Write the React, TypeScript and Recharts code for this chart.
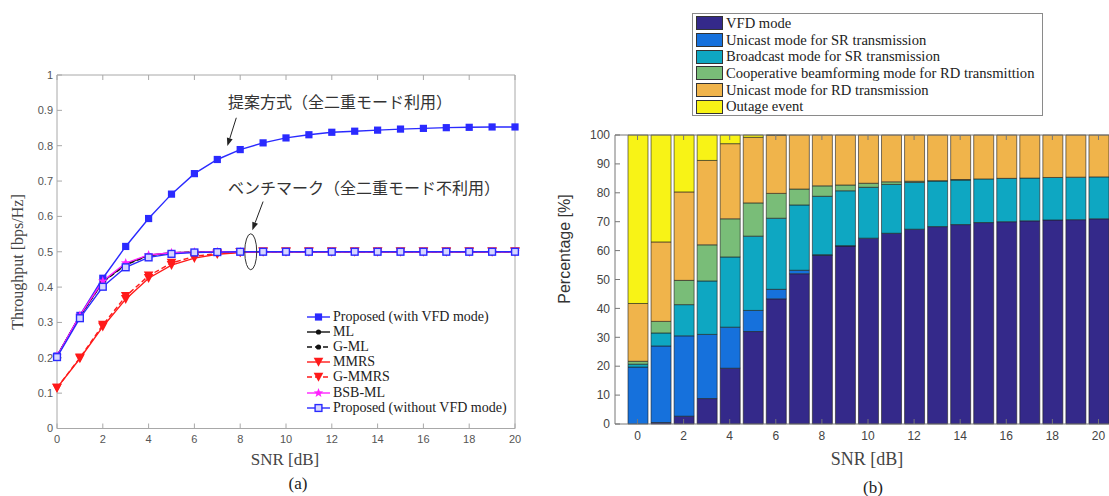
import React from 'react'
import {
  LineChart,
  Line,
  BarChart,
  Bar,
  XAxis,
  YAxis,
  Legend,
  ReferenceDot,
  ReferenceLine,
} from 'recharts'

// SNR [dB] points, shared by both panels
const snr = [0, 1, 2, 3, 4, 5, 6, 7, 8, 9, 10, 11, 12, 13, 14, 15, 16, 17, 18, 19, 20]

// (a) throughput [bps/Hz]
const proposedVfd = [0.205, 0.32, 0.425, 0.515, 0.594, 0.663, 0.721, 0.761, 0.789, 0.808, 0.822, 0.831, 0.838, 0.841, 0.844, 0.847, 0.849, 0.851, 0.852, 0.853, 0.853]
const ml = [0.205, 0.318, 0.415, 0.465, 0.49, 0.497, 0.499, 0.5, 0.5, 0.5, 0.5, 0.5, 0.5, 0.5, 0.5, 0.5, 0.5, 0.5, 0.5, 0.5, 0.5]
const gml = [0.205, 0.318, 0.414, 0.463, 0.489, 0.497, 0.499, 0.5, 0.5, 0.5, 0.5, 0.5, 0.5, 0.5, 0.5, 0.5, 0.5, 0.5, 0.5, 0.5, 0.5]
const mmrs = [0.115, 0.198, 0.288, 0.366, 0.425, 0.462, 0.482, 0.493, 0.498, 0.5, 0.5, 0.5, 0.5, 0.5, 0.5, 0.5, 0.5, 0.5, 0.5, 0.5, 0.5]
const gmmrs = [0.115, 0.2, 0.293, 0.374, 0.432, 0.468, 0.487, 0.495, 0.499, 0.5, 0.5, 0.5, 0.5, 0.5, 0.5, 0.5, 0.5, 0.5, 0.5, 0.5, 0.5]
const bsbml = [0.205, 0.32, 0.417, 0.468, 0.491, 0.497, 0.499, 0.5, 0.5, 0.5, 0.5, 0.5, 0.5, 0.5, 0.5, 0.5, 0.5, 0.5, 0.5, 0.5, 0.5]
const proposedNoVfd = [0.202, 0.312, 0.401, 0.456, 0.484, 0.494, 0.498, 0.499, 0.5, 0.5, 0.5, 0.5, 0.5, 0.5, 0.5, 0.5, 0.5, 0.5, 0.5, 0.5, 0.5]

const throughputTicks = [0, 0.1, 0.2, 0.3, 0.4, 0.5, 0.6, 0.7, 0.8, 0.9, 1]
const snrTicks = [0, 2, 4, 6, 8, 10, 12, 14, 16, 18, 20]

// (b) mode percentage [%]
const vfdMode = [0, 0.5, 2.7, 8.8, 19.3, 32, 43.3, 52, 58.3, 61.6, 64.3, 66, 67.4, 68.3, 69, 69.7, 70, 70.3, 70.6, 70.7, 71]
const unicastSr = [19.7, 26.5, 27.8, 22.2, 14.2, 7.3, 3.3, 1.2, 0.3, 0.1, 0, 0, 0, 0, 0, 0, 0, 0, 0, 0, 0]
const broadcastSr = [1, 4.5, 10.8, 18.5, 24.3, 25.7, 24.6, 22.6, 20.2, 19, 17.6, 16.9, 16.2, 15.8, 15.4, 15.1, 15, 14.8, 14.7, 14.7, 14.5]
const coopBf = [1, 4, 8.4, 12.5, 13.2, 11.5, 8.6, 5.5, 3.6, 2, 1.4, 0.9, 0.4, 0.1, 0.2, 0, 0, 0, 0, 0, 0]
const unicastRd = [20, 27.5, 30.6, 29.2, 26, 22.7, 20.1, 18.7, 17.6, 17.3, 16.7, 16.2, 16, 15.8, 15.3, 15.2, 15, 14.9, 14.7, 14.6, 14.5]
const outage = [58.3, 37, 19.7, 8.8, 3, 0.8, 0.1, 0, 0, 0, 0, 0, 0, 0, 0, 0, 0, 0, 0, 0, 0]

const percentTicks = [0, 10, 20, 30, 40, 50, 60, 70, 80, 90, 100]

const lineData = snr.map((s, i) => ({
  snr: s,
  proposedVfd: proposedVfd[i],
  ml: ml[i],
  gml: gml[i],
  mmrs: mmrs[i],
  gmmrs: gmmrs[i],
  bsbml: bsbml[i],
  proposedNoVfd: proposedNoVfd[i],
}))

const barData = snr.map((s, i) => ({
  snr: s,
  vfdMode: vfdMode[i],
  unicastSr: unicastSr[i],
  broadcastSr: broadcastSr[i],
  coopBf: coopBf[i],
  unicastRd: unicastRd[i],
  outage: outage[i],
}))

const lineSeries = [
  { key: 'proposedVfd', name: 'Proposed (with VFD mode)', color: '#2a2aff', dash: undefined, marker: 'square' },
  { key: 'ml', name: 'ML', color: '#111111', dash: undefined, marker: 'circle' },
  { key: 'gml', name: 'G-ML', color: '#111111', dash: '5 3', marker: 'circle' },
  { key: 'mmrs', name: 'MMRS', color: '#ff1a1a', dash: undefined, marker: 'triangle' },
  { key: 'gmmrs', name: 'G-MMRS', color: '#ff1a1a', dash: '5 3', marker: 'triangle' },
  { key: 'bsbml', name: 'BSB-ML', color: '#ff22ff', dash: undefined, marker: 'star' },
  { key: 'proposedNoVfd', name: 'Proposed (without VFD mode)', color: '#2a2aff', dash: undefined, marker: 'openSquare' },
]

const barSeries = [
  { key: 'vfdMode', name: 'VFD mode', color: '#34298a' },
  { key: 'unicastSr', name: 'Unicast mode for SR transmission', color: '#1671dc' },
  { key: 'broadcastSr', name: 'Broadcast mode for SR transmission', color: '#0ea7c2' },
  { key: 'coopBf', name: 'Cooperative beamforming mode for RD transmittion', color: '#79bd78' },
  { key: 'unicastRd', name: 'Unicast mode for RD transmission', color: '#f0b44b' },
  { key: 'outage', name: 'Outage event', color: '#f8f316' },
]

const serif = '"Liberation Serif", "Times New Roman", serif'
const sans = '"Liberation Sans", Arial, sans-serif'
const jp = '"Noto Sans CJK JP", sans-serif'

function starPath(cx: number, cy: number, r: number) {
  const pts: string[] = []
  for (let k = 0; k < 10; k++) {
    const rr = k % 2 === 0 ? r : r * 0.42
    const a = -Math.PI / 2 + (k * Math.PI) / 5
    pts.push(`${cx + rr * Math.cos(a)},${cy + rr * Math.sin(a)}`)
  }
  return `M${pts.join('L')}Z`
}

function Marker({ type, cx, cy, color }: { type: string; cx: number; cy: number; color: string }) {
  if (cx == null || cy == null) return null
  switch (type) {
    case 'square':
      return <rect x={cx - 3.6} y={cy - 3.6} width={7.2} height={7.2} fill={color} />
    case 'openSquare':
      return <rect x={cx - 3.4} y={cy - 3.4} width={6.8} height={6.8} fill="#d6d6ff" stroke={color} strokeWidth={1.4} />
    case 'circle':
      return <circle cx={cx} cy={cy} r={2.6} fill={color} />
    case 'triangle':
      return <path d={`M${cx - 4.8},${cy - 4.2}L${cx + 4.8},${cy - 4.2}L${cx},${cy + 4.8}Z`} fill={color} />
    case 'star':
      return <path d={starPath(cx, cy, 5)} fill={color} />
    default:
      return null
  }
}

const LineLegend = () => (
  <div style={{ background: '#fff', fontFamily: serif, fontSize: 14, color: '#222' }}>
    {lineSeries.map((s) => (
      <div key={s.key} style={{ display: 'flex', alignItems: 'center', height: 15.2, whiteSpace: 'nowrap' }}>
        <svg width={26} height={14} style={{ display: 'block' }}>
          <line x1={0} x2={23} y1={7} y2={7} stroke={s.color} strokeWidth={1.4} strokeDasharray={s.dash} />
          <Marker type={s.marker} cx={11.5} cy={7} color={s.color} />
        </svg>
        <span>{s.name}</span>
      </div>
    ))}
  </div>
)

const BarLegend = () => (
  <div
    style={{
      width: 351,
      height: 103,
      border: '1px solid #8a8a8a',
      background: '#fff',
      fontFamily: serif,
      fontSize: 14.6,
      color: '#222',
      paddingTop: 1,
      boxSizing: 'border-box',
    }}
  >
    {barSeries.map((s) => (
      <div key={s.key} style={{ display: 'flex', alignItems: 'center', height: 16.7, whiteSpace: 'nowrap' }}>
        <div style={{ width: 25, height: 12, marginLeft: 3, marginRight: 3, background: s.color, border: '1px solid #333' }} />
        <span>{s.name}</span>
      </div>
    ))}
  </div>
)

const Arrow = (p: any) => {
  const { x1, y1, x2, y2 } = p
  const ang = Math.atan2(y2 - y1, x2 - x1)
  const L = 8
  const W = 3
  const bx = x2 - L * Math.cos(ang)
  const by = y2 - L * Math.sin(ang)
  const nx = -Math.sin(ang) * W
  const ny = Math.cos(ang) * W
  return (
    <g>
      <line x1={x1} y1={y1} x2={bx} y2={by} stroke="#222" strokeWidth={1} />
      <path d={`M${x2},${y2}L${bx + nx},${by + ny}L${bx - nx},${by - ny}Z`} fill="#222" />
    </g>
  )
}

const Caption = ({ x, y, rotate = 0, font, size, color = '#333', children }: any) => (
  <div
    style={{
      position: 'absolute',
      left: x,
      top: y,
      transform: `translate(-50%, -50%) rotate(${rotate}deg)`,
      fontFamily: font,
      fontSize: size,
      color,
      whiteSpace: 'nowrap',
      lineHeight: 1,
    }}
  >
    {children}
  </div>
)

const frameStroke = '#a8a8a8'

export default function App() {
  return (
    <div style={{ position: 'absolute', left: 0, top: 0, width: 1109, height: 496, overflow: 'hidden', background: '#fff' }}>
      <div style={{ position: 'absolute', left: 0, top: 0 }}>
        <LineChart width={560} height={496} data={lineData} margin={{ top: 74, right: 44, bottom: 37.5, left: 0 }}>
          <XAxis
            dataKey="snr"
            type="number"
            domain={[0, 20]}
            ticks={snrTicks}
            stroke={frameStroke}
            tickSize={-5}
            tickMargin={12}
            height={30}
            tick={{ fill: '#555', fontSize: 11, fontFamily: sans }}
          />
          <XAxis
            xAxisId="top"
            orientation="top"
            dataKey="snr"
            type="number"
            domain={[0, 20]}
            ticks={snrTicks}
            stroke={frameStroke}
            tickSize={-5}
            height={1}
            tickFormatter={() => ''}
          />
          <YAxis
            type="number"
            domain={[0, 1]}
            ticks={throughputTicks}
            stroke={frameStroke}
            width={57}
            tickSize={-5}
            tickMargin={9}
            tick={{ fill: '#555', fontSize: 11, fontFamily: sans }}
          />
          <YAxis
            yAxisId="right"
            orientation="right"
            type="number"
            domain={[0, 1]}
            ticks={throughputTicks}
            stroke={frameStroke}
            width={1}
            tickSize={-5}
            tickFormatter={() => ''}
          />
          {lineSeries.map((s) => (
            <Line
              key={s.key}
              dataKey={s.key}
              name={s.name}
              stroke={s.color}
              strokeWidth={1.4}
              strokeDasharray={s.dash}
              isAnimationActive={false}
              dot={(p: any) => <Marker key={`${s.key}-${p.index}`} type={s.marker} cx={p.cx} cy={p.cy} color={s.color} />}
              activeDot={false}
            />
          ))}
          <ReferenceDot
            x={7.47}
            y={0.922}
            r={0}
            shape={(p: any) => (
              <text x={p.cx} y={p.cy} dy="0.35em" fontSize={16} fontFamily={jp} fill="#333">
                提案方式（全二重モード利用）
              </text>
            )}
          />
          <ReferenceDot
            x={7.47}
            y={0.68}
            r={0}
            shape={(p: any) => (
              <text x={p.cx} y={p.cy} dy="0.35em" fontSize={16} fontFamily={jp} fill="#333">
                ベンチマーク（全二重モード不利用）
              </text>
            )}
          />
          <ReferenceLine segment={[{ x: 7.83, y: 0.879 }, { x: 7.44, y: 0.799 }]} shape={Arrow} />
          <ReferenceLine segment={[{ x: 9.0, y: 0.642 }, { x: 8.53, y: 0.561 }]} shape={Arrow} />
          <ReferenceDot
            x={8.46}
            y={0.5}
            r={0}
            shape={(p: any) => <ellipse cx={p.cx} cy={p.cy} rx={6} ry={18} fill="none" stroke="#333" strokeWidth={1} />}
          />
          <Legend
            layout="vertical"
            align="center"
            verticalAlign="middle"
            content={() => <LineLegend />}
            wrapperStyle={{ left: 307, top: 309, width: 'auto', height: 'auto' }}
          />
        </LineChart>
      </div>

      <div style={{ position: 'absolute', left: 560, top: 0 }}>
        <BarChart width={570} height={496} data={barData} barSize={20} margin={{ top: 134, right: 9, bottom: 42, left: 0 }}>
          <XAxis
            dataKey="snr"
            interval={1}
            padding={{ left: 11, right: 11 }}
            stroke="#777"
            tickSize={-5}
            tickMargin={12}
            height={30}
            tick={{ fill: '#444', fontSize: 12, fontFamily: sans }}
          />
          <XAxis
            xAxisId="top"
            orientation="top"
            dataKey="snr"
            interval={1}
            padding={{ left: 11, right: 11 }}
            stroke="#777"
            tickSize={-5}
            height={1}
            tickFormatter={() => ''}
          />
          <YAxis
            type="number"
            domain={[0, 100]}
            ticks={percentTicks}
            stroke="#777"
            width={55}
            tickSize={-5}
            tickMargin={10}
            tick={{ fill: '#444', fontSize: 12, fontFamily: sans }}
          />
          {barSeries.map((s) => (
            <Bar
              key={s.key}
              dataKey={s.key}
              name={s.name}
              stackId="modes"
              fill={s.color}
              stroke="#1e1e1e"
              strokeWidth={0.6}
              isAnimationActive={false}
            />
          ))}
          <Legend
            layout="vertical"
            align="center"
            verticalAlign="middle"
            content={() => <BarLegend />}
            wrapperStyle={{ left: 132, top: 13, width: 'auto', height: 'auto' }}
          />
        </BarChart>
      </div>

      <Caption x={18} y={262} rotate={-90} font={serif} size={16} color="#444">
        Throughput [bps/Hz]
      </Caption>
      <Caption x={285} y={459} font={serif} size={17} color="#444">
        SNR [dB]
      </Caption>
      <Caption x={298} y={483} font={serif} size={17} color="#222">
        (a)
      </Caption>
      <Caption x={565} y={249} rotate={-90} font={sans} size={16} color="#333">
        Percentage [%]
      </Caption>
      <Caption x={867} y={459} font={serif} size={18} color="#444">
        SNR [dB]
      </Caption>
      <Caption x={873} y={487} font={serif} size={17} color="#222">
        (b)
      </Caption>
    </div>
  )
}
